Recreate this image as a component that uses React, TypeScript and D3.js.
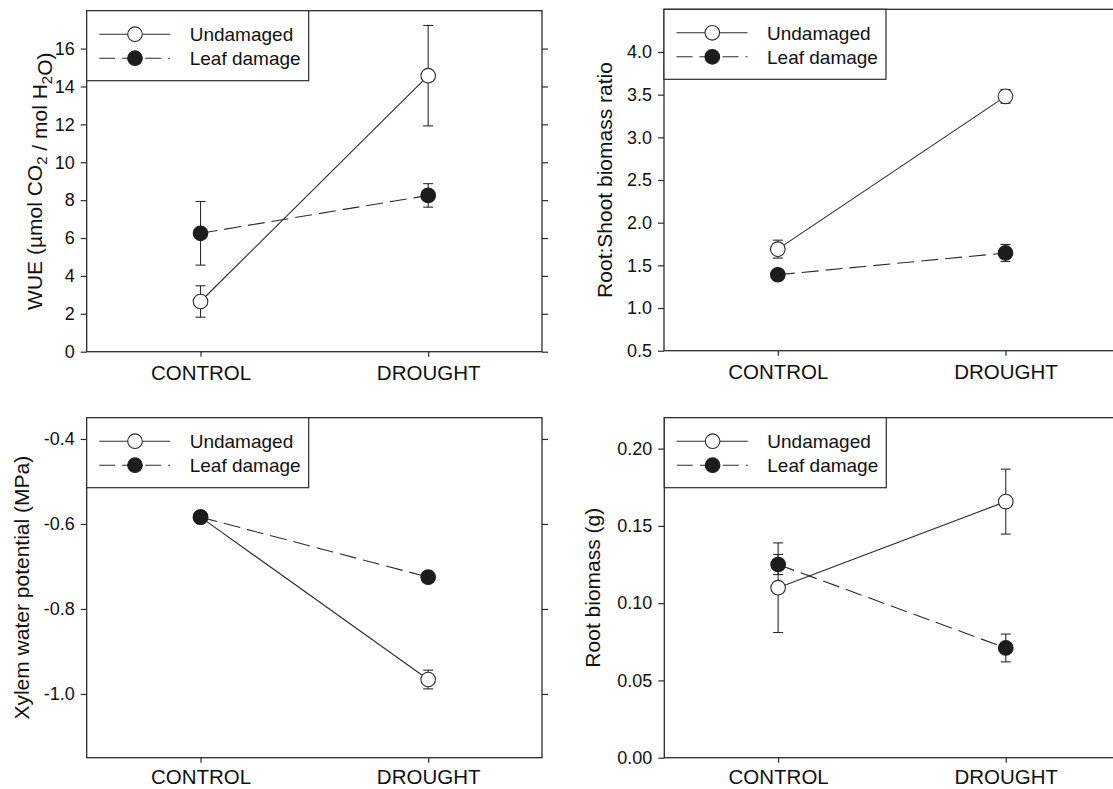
import React, { useEffect, useRef } from 'react';
import * as d3 from 'd3';

const categories = ['CONTROL', 'DROUGHT'];
const seriesNames = ['Undamaged', 'Leaf damage'];

// WUE panel
const wueUndamaged = [2.65, 14.57];
const wueUndamagedErr = [0.83, 2.65];
const wueLeaf = [6.25, 8.25];
const wueLeafErr = [1.68, 0.62];
const wueTicks = [0, 2, 4, 6, 8, 10, 12, 14, 16];

// Root:Shoot panel
const ratioUndamaged = [1.69, 3.48];
const ratioUndamagedErr = [0.105, 0.08];
const ratioLeaf = [1.39, 1.645];
const ratioLeafErr = [0.05, 0.1];
const ratioTicks = [0.5, 1.0, 1.5, 2.0, 2.5, 3.0, 3.5, 4.0];

// Xylem panel
const xylemUndamaged = [-0.584, -0.966];
const xylemUndamagedErr = [0.01, 0.022];
const xylemLeaf = [-0.584, -0.725];
const xylemLeafErr = [0.012, 0.01];
const xylemTicks = [-1.0, -0.8, -0.6, -0.4];

// Root biomass panel
const rootUndamaged = [0.11, 0.1657];
const rootUndamagedErr = [0.029, 0.021];
const rootLeaf = [0.125, 0.071];
const rootLeafErr = [0.0065, 0.009];
const rootTicks = [0, 0.05, 0.1, 0.15, 0.2];

const FONT = '"Liberation Sans", Arial, Helvetica, sans-serif';
const INK = '#2b2b2b';

const panels = [
  {
    left: 86.7, right: 542, top: 10.7, bottom: 351.7, rightAxis: true, xPad: 9,
    domain: [0, 18], ticks: wueTicks, fmt: 'd', titleX: 42,
    title: [{ t: 'WUE (µmol CO' }, { t: '2', sub: true }, { t: ' / mol H' }, { t: '2', sub: true }, { t: 'O)' }],
    series: [[wueUndamaged, wueUndamagedErr], [wueLeaf, wueLeafErr]],
  },
  {
    left: 664, right: 1119.3, top: 9.3, bottom: 350.7, rightAxis: false, xPad: 9,
    domain: [0.5, 4.5], ticks: ratioTicks, fmt: '.1f', titleX: 612,
    title: [{ t: 'Root:Shoot biomass ratio' }],
    series: [[ratioUndamaged, ratioUndamagedErr], [ratioLeaf, ratioLeafErr]],
  },
  {
    left: 86.7, right: 542, top: 417.7, bottom: 757.7, rightAxis: true, xPad: 6.5,
    domain: [-1.15, -0.35], ticks: xylemTicks, fmt: '.1f', titleX: 29,
    title: [{ t: 'Xylem water potential (MPa)' }],
    series: [[xylemUndamaged, xylemUndamagedErr], [xylemLeaf, xylemLeafErr]],
  },
  {
    left: 664.3, right: 1119.6, top: 417.7, bottom: 757.7, rightAxis: false, xPad: 6.5,
    domain: [0, 0.22], ticks: rootTicks, fmt: '.2f', titleX: 600,
    title: [{ t: 'Root biomass (g)' }],
    series: [[rootUndamaged, rootUndamagedErr], [rootLeaf, rootLeafErr]],
  },
];

function drawPanel(g: any, p: any) {
  const x = d3.scalePoint<string>().domain(categories).range([p.left, p.right]).padding(0.5);
  const y = d3.scaleLinear().domain(p.domain).range([p.bottom, p.top]);
  const fmt = (d: number) => d3.format(p.fmt)(d).replace('−', '-');

  // left axis
  const ya = g.append('g')
    .attr('transform', `translate(${p.left},0)`)
    .call(d3.axisLeft(y).tickValues(p.ticks).tickFormat(fmt as any).tickSize(6).tickPadding(6).tickSizeOuter(0));
  ya.select('.domain').remove();
  ya.selectAll('line').attr('stroke', INK).attr('stroke-width', 1.2);
  ya.selectAll('text').attr('font-family', FONT).attr('font-size', 18).attr('fill', '#111');

  if (p.rightAxis) {
    const ra = g.append('g')
      .attr('transform', `translate(${p.right},0)`)
      .call(d3.axisRight(y).tickValues(p.ticks).tickFormat(() => '').tickSize(6).tickSizeOuter(0));
    ra.select('.domain').remove();
    ra.selectAll('line').attr('stroke', INK).attr('stroke-width', 1.2);
  }

  // bottom axis
  const xa = g.append('g')
    .attr('transform', `translate(0,${p.bottom})`)
    .call(d3.axisBottom(x).tickSize(5).tickPadding(p.xPad).tickSizeOuter(0));
  xa.select('.domain').remove();
  xa.selectAll('line').attr('stroke', INK).attr('stroke-width', 1.2);
  xa.selectAll('text').attr('font-family', FONT).attr('font-size', 20.5).attr('fill', '#111');

  // frame
  g.append('rect')
    .attr('x', p.left).attr('y', p.top)
    .attr('width', p.right - p.left).attr('height', p.bottom - p.top)
    .attr('fill', 'none').attr('stroke', INK).attr('stroke-width', 1.3);

  // y title
  const cy = (p.top + p.bottom) / 2;
  const title = g.append('text')
    .attr('transform', `translate(${p.titleX},${cy}) rotate(-90)`)
    .attr('text-anchor', 'middle')
    .attr('font-family', FONT).attr('font-size', 21).attr('fill', '#111');
  p.title.forEach((s: any) => {
    if (s.sub) {
      title.append('tspan').attr('dy', 5).attr('font-size', 15).text(s.t);
      title.append('tspan').attr('dy', -5).text('');
    } else {
      title.append('tspan').text(s.t);
    }
  });

  // series
  p.series.forEach(([vals, errs]: number[][], si: number) => {
    const pts = categories.map((c, i) => ({ x: x(c) as number, v: vals[i], e: errs[i] }));
    g.append('path')
      .attr('d', d3.line<any>().x(d => d.x).y(d => y(d.v))(pts))
      .attr('fill', 'none').attr('stroke', INK).attr('stroke-width', 1.1)
      .attr('stroke-dasharray', si === 1 ? '17,7' : null);
    pts.forEach(d => {
      const y1 = y(d.v + d.e), y2 = y(d.v - d.e);
      g.append('line').attr('x1', d.x).attr('x2', d.x).attr('y1', y1).attr('y2', y2)
        .attr('stroke', INK).attr('stroke-width', 1.1);
      [y1, y2].forEach(yy => g.append('line')
        .attr('x1', d.x - 5).attr('x2', d.x + 5).attr('y1', yy).attr('y2', yy)
        .attr('stroke', INK).attr('stroke-width', 1.1));
    });
    g.selectAll(null).data(pts).enter().append('circle')
      .attr('cx', (d: any) => d.x).attr('cy', (d: any) => y(d.v)).attr('r', 7.3)
      .attr('fill', si === 0 ? '#fff' : '#1c1c1c')
      .attr('stroke', si === 0 ? INK : '#1c1c1c').attr('stroke-width', 1.1);
  });

  // legend
  const lg = g.append('g').attr('transform', `translate(${p.left},${p.top})`);
  lg.append('rect').attr('width', 222).attr('height', 70)
    .attr('fill', '#fff').attr('stroke', INK).attr('stroke-width', 1.2);
  seriesNames.forEach((name, i) => {
    const ry = 23.5 + i * 24;
    lg.append('line').attr('x1', 12.5).attr('x2', 83.5).attr('y1', ry).attr('y2', ry)
      .attr('stroke', INK).attr('stroke-width', 1.1)
      .attr('stroke-dasharray', i === 1 ? '16,7' : null);
    lg.append('circle').attr('cx', 48.3).attr('cy', ry).attr('r', 7.3)
      .attr('fill', i === 0 ? '#fff' : '#1c1c1c')
      .attr('stroke', i === 0 ? INK : '#1c1c1c').attr('stroke-width', 1.1);
    lg.append('text').attr('x', 103).attr('y', ry + 7)
      .attr('font-family', FONT).attr('font-size', 19).attr('fill', '#111').text(name);
  });
}

const App = () => {
  const svgRef = useRef<SVGSVGElement>(null);

  useEffect(() => {
    const svg = d3.select(svgRef.current);
    svg.selectAll('*').remove();
    panels.forEach(p => drawPanel(svg.append('g'), p));
  }, []);

  return (
    <svg ref={svgRef} width={1113} height={789}
      style={{ position: 'absolute', left: 0, top: 0, background: '#fff' }} />
  );
};

export default App;
